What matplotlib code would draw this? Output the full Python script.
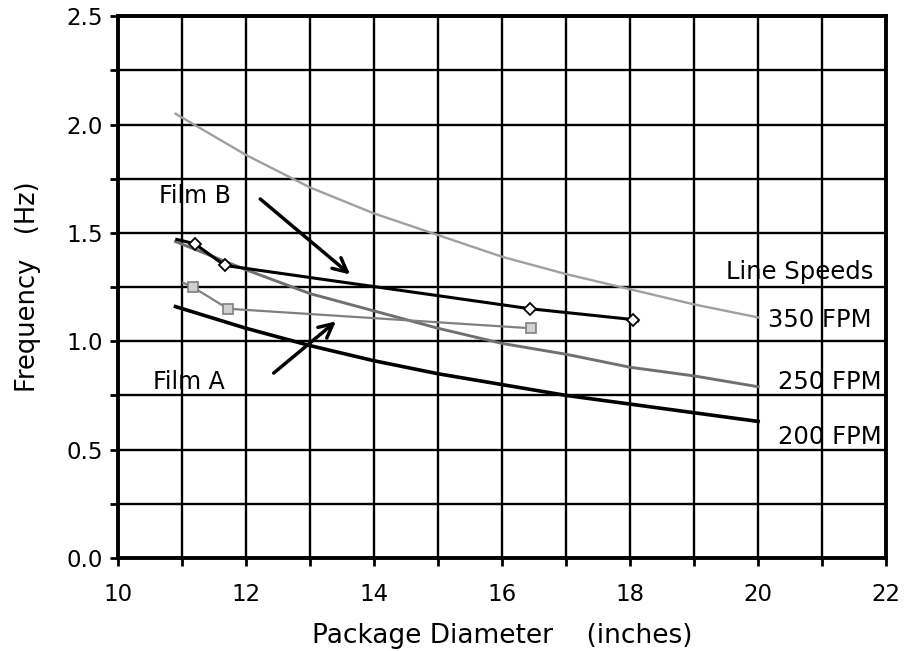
import matplotlib; matplotlib.use('Agg')
import matplotlib.pyplot as plt
import numpy as np

plt.rcParams['font.family'] = 'DejaVu Sans'

# line speed curves
diam = [10.9, 12, 13, 14, 15, 16, 17, 18, 19, 20]
fpm350 = [2.05, 1.86, 1.71, 1.59, 1.49, 1.39, 1.31, 1.24, 1.17, 1.11]
fpm250 = [1.46, 1.33, 1.22, 1.14, 1.06, 0.99, 0.94, 0.88, 0.84, 0.79]
fpm200 = [1.16, 1.06, 0.98, 0.91, 0.85, 0.80, 0.75, 0.71, 0.67, 0.63]

# measured films
filmB_x = [11.2, 11.67, 16.44, 18.05]
filmB_y = [1.45, 1.35, 1.15, 1.10]
filmA_x = [11.17, 11.72, 16.45]
filmA_y = [1.25, 1.15, 1.06]

fig = plt.figure(figsize=(9.07, 6.51), dpi=100)
ax = fig.add_axes([0.130, 0.143, 0.847, 0.832])
ax.set_xlim(10, 22); ax.set_ylim(0, 2.5)

ax.set_xticks(np.arange(10, 23, 2))
ax.set_xticks(np.arange(11, 22, 2), minor=True)
ax.set_yticks(np.arange(0, 2.51, 0.5))
ax.set_yticks(np.arange(0.25, 2.5, 0.5), minor=True)
ax.set_yticklabels([f'{v:.1f}' for v in np.arange(0, 2.51, 0.5)])
ax.grid(True, which='both', color='black', lw=1.7)
ax.set_axisbelow(True)
ax.tick_params(which='both', direction='out', length=6, width=2, labelsize=16.5)
ax.tick_params(axis='x', pad=12)
ax.tick_params(axis='y', pad=5)
for s in ax.spines.values():
    s.set_linewidth(2.8)

ax.plot(diam, fpm350, color='#a0a0a0', lw=1.7, zorder=3)
ax.plot(diam, fpm250, color='#707070', lw=2.1, zorder=3)
ax.plot(diam, fpm200, color='black', lw=2.6, zorder=3)

ax.plot([10.92] + filmB_x + [18.12], [1.47] + filmB_y + [1.095], color='black', lw=2.2, zorder=4)
ax.plot(filmB_x, filmB_y, ls='none', marker='D', ms=6, mfc='white', mec='black', mew=1.3, zorder=5)
ax.plot([11.02] + filmA_x, [1.27] + filmA_y, color='#808080', lw=1.6, zorder=4)
ax.plot(filmA_x, filmA_y, ls='none', marker='s', ms=7, mfc='#d0d0d0', mec='#808080', mew=1.2, zorder=5)

ax.text(10.64, 1.67, 'Film B', fontsize=17, va='center', ha='left', zorder=6)
ax.annotate('', xy=(13.66, 1.30), xytext=(12.19, 1.665),
            arrowprops=dict(arrowstyle='->', lw=2.5, color='black', mutation_scale=25), zorder=6)
ax.text(10.55, 0.81, 'Film A', fontsize=17, va='center', ha='left', zorder=6)
ax.annotate('', xy=(13.44, 1.10), xytext=(12.4, 0.845),
            arrowprops=dict(arrowstyle='->', lw=2.5, color='black', mutation_scale=25), zorder=6)

ax.text(21.8, 1.32, 'Line Speeds', fontsize=17.5, ha='right', va='center', zorder=6)
for lab, x, y in [('350 FPM', 20.16, 1.10), ('250 FPM', 20.31, 0.81), ('200 FPM', 20.31, 0.56)]:
    ax.text(x, y, lab, fontsize=17.5, ha='left', va='center', zorder=6)

ax.set_xlabel('Package Diameter    (inches)', fontsize=19, labelpad=12)
ax.set_ylabel('Frequency   (Hz)', fontsize=18.5, labelpad=18)

plt.savefig('out.png', dpi=100, facecolor='white')
